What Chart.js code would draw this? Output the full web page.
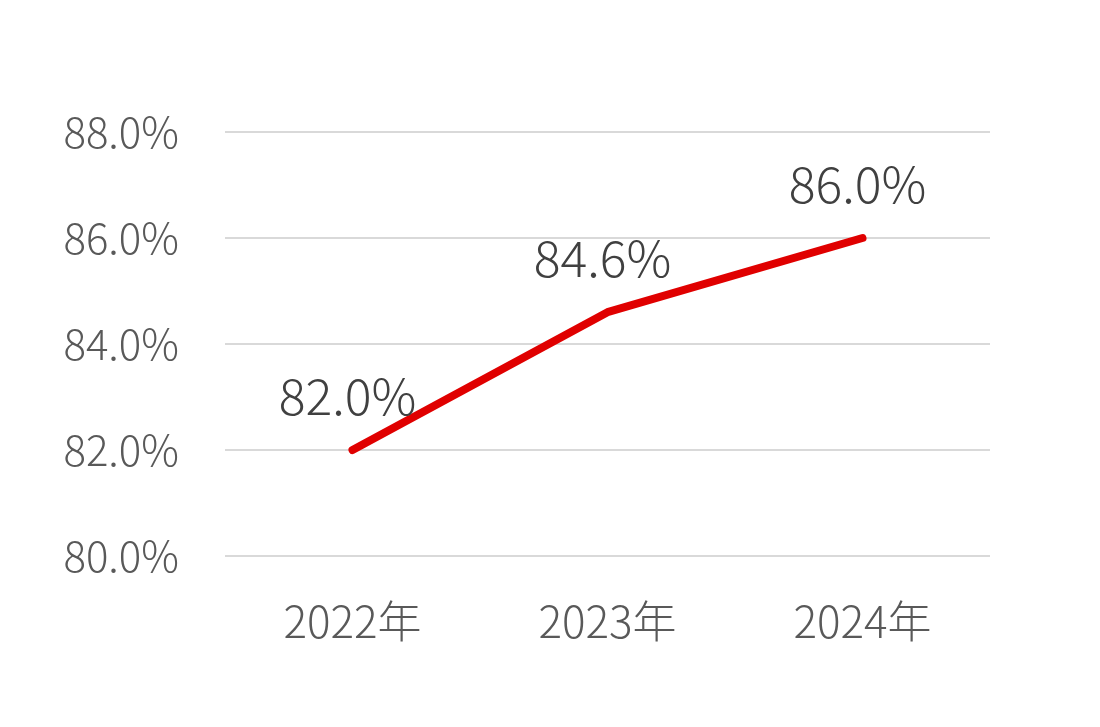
<!DOCTYPE html>
<html>
<head>
<meta charset="utf-8">
<script src="https://cdn.jsdelivr.net/npm/chart.js@4/dist/chart.umd.min.js"></script>
<style>
  html, body { margin: 0; padding: 0; background: #fff; }
  #wrap { width: 1100px; height: 727px; }
</style>
</head>
<body>
<div id="wrap"><canvas id="rateChart" width="1100" height="727"></canvas></div>
<script>
// chart data
const years = ['2022年', '2023年', '2024年'];
const rates = [82.0, 84.6, 86.0];
const yTicks = [80, 82, 84, 86, 88];

const FONT = "'Noto Sans CJK JP', 'Noto Sans', sans-serif";

// draw value labels above each point
const valueLabels = {
  id: 'valueLabels',
  afterDatasetsDraw(chart) {
    const ctx = chart.ctx;
    const meta = chart.getDatasetMeta(0);
    ctx.save();
    ctx.font = '300 50px ' + FONT;
    ctx.fillStyle = '#404040';
    ctx.textAlign = 'center';
    ctx.textBaseline = 'middle';
    meta.data.forEach((pt, i) => {
      ctx.fillText(rates[i].toFixed(1) + '%', pt.x - 5, pt.y - 54);
    });
    ctx.restore();
  }
};

const ctx = document.getElementById('rateChart').getContext('2d');
new Chart(ctx, {
  type: 'line',
  data: {
    labels: years,
    datasets: [{
      data: rates,
      borderColor: '#e00000',
      borderWidth: 8,
      borderCapStyle: 'round',
      borderJoinStyle: 'round',
      pointRadius: 0,
      tension: 0,
      fill: false
    }]
  },
  options: {
    responsive: false,
    animation: false,
    layout: { padding: { top: 132, right: 110, left: 0, bottom: 0 } },
    plugins: {
      legend: { display: false },
      tooltip: { enabled: false }
    },
    scales: {
      x: {
        offset: true,
        grid: { display: false },
        border: { display: false },
        ticks: { color: '#595959', font: { family: FONT, size: 44, weight: 300 }, padding: 31 },
        afterFit: s => { s.height = 727 - 556; }
      },
      y: {
        min: yTicks[0],
        max: yTicks[yTicks.length - 1],
        afterBuildTicks: s => { s.ticks = yTicks.map(v => ({ value: v })); },
        grid: { color: '#d9d9d9', lineWidth: 2, drawTicks: false },
        border: { display: false },
        ticks: {
          color: '#595959',
          font: { family: FONT, size: 42, weight: 300 },
          padding: 46,
          callback: v => v.toFixed(1) + '%'
        },
        afterFit: s => { s.width = 225; }
      }
    }
  },
  plugins: [valueLabels]
});
</script>
</body>
</html>
